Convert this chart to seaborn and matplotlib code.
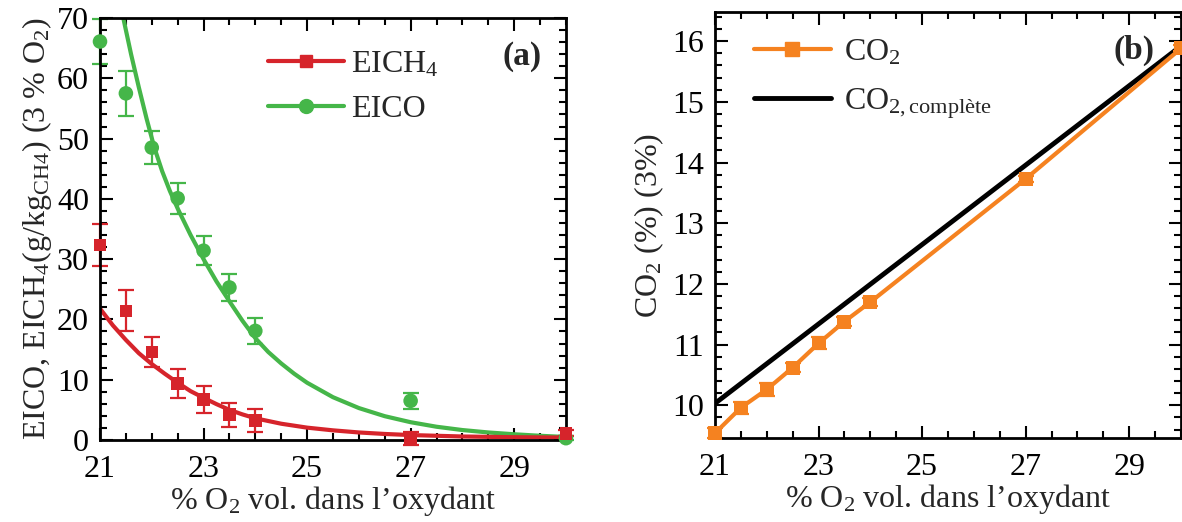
import numpy as np
import pandas as pd
import seaborn as sns
import matplotlib.pyplot as plt
from matplotlib.lines import Line2D
from matplotlib.ticker import FixedLocator, MultipleLocator

sns.set_theme(style="ticks")
plt.rcParams['font.family'] = ['Liberation Serif', 'DejaVu Serif']
plt.rcParams['mathtext.fontset'] = 'custom'
plt.rcParams['mathtext.rm'] = 'Liberation Serif'
plt.rcParams['mathtext.it'] = 'Liberation Serif:italic'
plt.rcParams['mathtext.bf'] = 'Liberation Serif:bold'

# measured points
o2 = [21, 21.5, 22, 22.5, 23, 23.5, 24, 27, 30]
eich4 = [32.3, 21.4, 14.6, 9.4, 6.7, 4.2, 3.2, 0.3, 1.1]
eich4_err = [3.5, 3.4, 2.5, 2.4, 2.2, 2.0, 1.9, 1.1, 0.5]
eico = [66.1, 57.5, 48.5, 40.1, 31.4, 25.3, 18.1, 6.5, 0.3]
eico_err = [3.8, 3.7, 2.8, 2.6, 2.4, 2.3, 2.1, 1.3, 0.3]

# fitted curves
fit_ch4_x = [21.0, 21.25, 21.5, 21.75, 22.0, 22.25, 22.5, 22.75, 23.0, 23.25, 23.5,
             23.75, 24.0, 24.5, 25.0, 25.5, 26.0, 26.5, 27.0, 28.0, 29.0, 30.0]
fit_ch4_y = [21.8, 19.0, 16.6, 14.4, 12.6, 11.0, 9.5, 8.1, 7.0, 5.95, 5.0,
             4.25, 3.6, 2.7, 2.05, 1.6, 1.25, 1.0, 0.82, 0.58, 0.46, 0.4]
fit_co_x = [21.45, 21.6, 21.75, 21.9, 22.05, 22.2, 22.35, 22.5, 22.75, 23.0, 23.25,
            23.5, 23.75, 24.0, 24.25, 24.5, 24.75, 25.0, 25.5, 26.0, 26.5, 27.0,
            27.5, 28.0, 28.5, 29.0, 29.5, 30.0]
fit_co_y = [70.0, 64.0, 58.5, 53.3, 48.5, 44.6, 41.3, 38.4, 34.0, 30.0, 26.3,
            23.0, 19.8, 16.9, 14.6, 12.7, 11.0, 9.5, 7.1, 5.3, 3.95, 2.95,
            2.2, 1.65, 1.25, 0.95, 0.7, 0.5]

co2 = [9.54, 9.96, 10.26, 10.62, 11.02, 11.38, 11.70, 13.73, 15.88]
co2_err = [0.08, 0.1, 0.1, 0.08, 0.1, 0.08, 0.06, 0.05, 0.05]
co2_comp_x = [21, 30]
co2_comp = [10.03, 15.92]

red = '#d6242b'
green = '#45b649'
orange = '#f58220'

fig = plt.figure(figsize=(11.82, 5.22), dpi=100)
ax1 = fig.add_axes([0.0846, 0.1571, 0.3942, 0.8084])
ax2 = fig.add_axes([0.6049, 0.1609, 0.3942, 0.816])

# ---- panel (a)
sns.lineplot(x=fit_co_x, y=fit_co_y, color=green, lw=3, sort=False, ax=ax1)
sns.lineplot(x=fit_ch4_x, y=fit_ch4_y, color=red, lw=3, sort=False, ax=ax1)
ax1.errorbar(o2, eico, yerr=eico_err, fmt='none', ecolor=green, elinewidth=1.6,
             capsize=6, capthick=1.6, clip_on=False)
ax1.errorbar(o2, eich4, yerr=eich4_err, fmt='none', ecolor=red, elinewidth=1.6,
             capsize=6, capthick=1.6, clip_on=False)
sns.scatterplot(x=o2, y=eico, marker='o', s=110, color=green, edgecolor='none',
                ax=ax1, clip_on=False, zorder=4)
sns.scatterplot(x=o2, y=eich4, marker='s', s=80, color=red, edgecolor='none',
                ax=ax1, clip_on=False, zorder=4)
ax1.set_xlim(21, 30)
ax1.set_ylim(0, 70)
ax1.yaxis.set_major_locator(MultipleLocator(10))
ax1.yaxis.set_minor_locator(MultipleLocator(2))
ax1.set_ylabel(r'EICO, EICH$_4$(g/kg$_{\mathrm{CH4}}$) (3 % O$_2$)', fontsize=23, labelpad=2)
ax1.text(29.15, 63.6, '(a)', fontsize=24, fontweight='bold', ha='center', va='center')
h1 = [Line2D([], [], color=red, lw=3, marker='s', markersize=8),
      Line2D([], [], color=green, lw=3, marker='o', markersize=10)]
ax1.legend(h1, [r'EICH$_4$', 'EICO'], loc='upper left', bbox_to_anchor=(0.36, 0.925),
           frameon=False, fontsize=23, handlelength=2.4, handletextpad=0.2,
           labelspacing=0.5, borderpad=0, borderaxespad=0)

# ---- panel (b)
sns.lineplot(x=co2_comp_x, y=co2_comp, color='black', lw=3.5, ax=ax2)
ax2.errorbar(o2, co2, yerr=co2_err, fmt='none', ecolor=orange, elinewidth=1.6,
             capsize=6, capthick=1.6, clip_on=False)
sns.lineplot(x=o2, y=co2, color=orange, lw=3, marker='s', markersize=10,
             markeredgewidth=0, ax=ax2, clip_on=False, zorder=4)
ax2.set_xlim(21, 30)
ax2.set_ylim(9.46, 16.48)
ax2.yaxis.set_major_locator(MultipleLocator(1))
ax2.yaxis.set_minor_locator(MultipleLocator(0.2))
ax2.set_ylabel(r'CO$_2$ (%) (3%)', fontsize=23, labelpad=4)
ax2.text(29.1, 15.85, '(b)', fontsize=24, fontweight='bold', ha='center', va='center')
h2 = [Line2D([], [], color=orange, lw=3, marker='s', markersize=10),
      Line2D([], [], color='black', lw=3.5)]
ax2.legend(h2, [r'CO$_2$', r'CO$_{2,\mathrm{complète}}$'], loc='upper left',
           bbox_to_anchor=(0.084, 0.94), frameon=False, fontsize=23, handlelength=2.4,
           handletextpad=0.4, labelspacing=0.6, borderpad=0, borderaxespad=0)

for ax in (ax1, ax2):
    ax.xaxis.set_major_locator(FixedLocator([21, 23, 25, 27, 29]))
    ax.xaxis.set_minor_locator(MultipleLocator(0.5))
    ax.set_xlabel(r'% O$_2$ vol. dans l’oxydant', fontsize=23, labelpad=0)
    ax.tick_params(which='both', direction='in', top=True, right=True,
                   labelsize=23, width=1.5, colors='black')
    ax.tick_params(which='major', length=9)
    ax.tick_params(axis='x', which='major', pad=11)
    ax.tick_params(axis='y', which='major', pad=8)
    ax.tick_params(which='minor', length=5)
    for sp in ax.spines.values():
        sp.set_linewidth(2)
        sp.set_color('black')

fig.savefig('out.png', dpi=100)
